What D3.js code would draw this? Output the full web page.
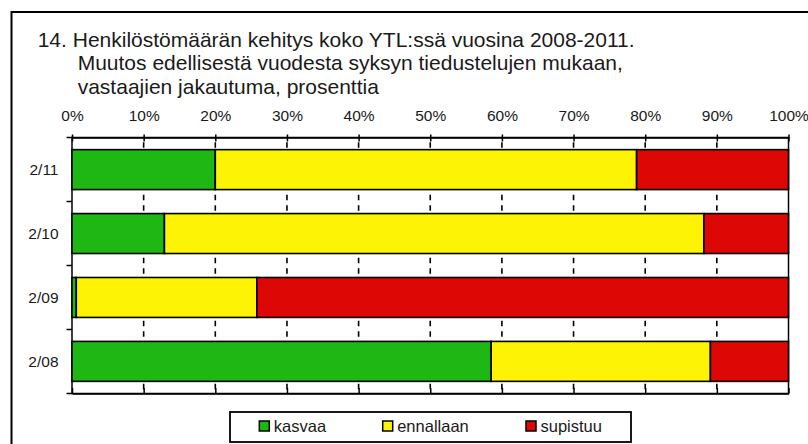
<!DOCTYPE html>
<html><head><meta charset="utf-8">
<script src="https://cdn.jsdelivr.net/npm/d3@7"></script>
<style>
html,body{margin:0;padding:0;background:#fff;}
svg{display:block;}
text{font-family:"Liberation Sans",Arial,Helvetica,sans-serif;fill:#1a1a1a;}
</style></head>
<body>
<svg id="chart" width="808" height="444"></svg>
<script>
const titleLines = [
  "14. Henkilöstömäärän kehitys koko YTL:ssä vuosina 2008-2011.",
  "Muutos edellisestä vuodesta syksyn tiedustelujen mukaan,",
  "vastaajien jakautuma, prosenttia"
];
const categories = ["2/11", "2/10", "2/09", "2/08"];
const seriesNames = ["kasvaa", "ennallaan", "supistuu"];
const kasvaa    = [20,   12.9, 0.6,  58.5];
const ennallaan = [58.8, 75.3, 25.2, 30.6];
const supistuu  = [21.2, 11.8, 74.2, 10.9];
const tickValues = [0,10,20,30,40,50,60,70,80,90,100];
const colors = ["#1FB714", "#FCF305", "#DD0806"];

const svg = d3.select("#chart");

// outer frame (extends beyond page on right/bottom)
svg.append("rect").attr("x", 11.5).attr("y", 12).attr("width", 900).attr("height", 500)
  .attr("fill", "none").attr("stroke", "#000").attr("stroke-width", 2);

// title
const tY = [46.7, 70.2, 94];
const tX = [37.7, 77.7, 77.7];
titleLines.forEach((t, i) => {
  svg.append("text").attr("x", tX[i]).attr("y", tY[i])
    .attr("font-size", 21).text(t);
});

const x = d3.scaleLinear().domain([0, 100]).range([72, 788.5]);
const y = d3.scaleBand().domain(categories).range([137.5, 393.5])
  .paddingInner(0.375).paddingOuter(0.19);

const [x0, x1] = x.range();
const [y0, y1] = y.range();

// dashed gridlines
svg.append("g").selectAll("line").data(tickValues.slice(1, -1)).join("line")
  .attr("x1", d => x(d)).attr("x2", d => x(d))
  .attr("y1", y0).attr("y2", y1)
  .attr("stroke", "#000").attr("stroke-width", 1.6)
  .attr("stroke-dasharray", "5.5,5").attr("stroke-dashoffset", 5.7);

// plot frame
svg.append("rect").attr("x", x0).attr("y", y0).attr("width", x1 - x0).attr("height", y1 - y0)
  .attr("fill", "none").attr("stroke", "#000").attr("stroke-width", 1.5);

// stacked bars
const rows = categories.map((c, i) => ({cat: c, kasvaa: kasvaa[i], ennallaan: ennallaan[i], supistuu: supistuu[i]}));
const stack = d3.stack().keys(seriesNames)(rows);
svg.append("g").selectAll("g").data(stack).join("g")
  .attr("fill", (d, i) => colors[i])
  .selectAll("rect").data(d => d).join("rect")
  .attr("x", d => x(d[0])).attr("width", d => x(d[1]) - x(d[0]))
  .attr("y", d => y(d.data.cat)).attr("height", y.bandwidth())
  .attr("stroke", "#000").attr("stroke-width", 1.6);

// top axis
const topAxis = svg.append("g").attr("transform", `translate(0,${y0})`)
  .call(d3.axisTop(x).tickValues(tickValues).tickFormat(d => d + "%").tickSizeOuter(0).tickSizeInner(3).tickPadding(14));
topAxis.select(".domain").attr("stroke", "#000").attr("stroke-width", 1.5);
topAxis.selectAll(".tick line").attr("y1", 4).attr("y2", -3).attr("stroke", "#000").attr("stroke-width", 1.5);
topAxis.selectAll(".tick text").attr("font-size", 15.5).attr("font-family", '"Liberation Sans",Arial,sans-serif').attr("fill", "#1a1a1a");

// bottom axis
const botAxis = svg.append("g").attr("transform", `translate(0,${y1})`)
  .call(d3.axisBottom(x).tickValues(tickValues).tickFormat("").tickSizeOuter(0).tickSizeInner(-5.5));
botAxis.select(".domain").attr("stroke", "#000").attr("stroke-width", 1.5);
botAxis.selectAll(".tick line").attr("stroke", "#000").attr("stroke-width", 1.5);

// left axis: ticks at band boundaries
const bounds = d3.range(categories.length + 1).map(i => y0 + i * (y1 - y0) / categories.length);
svg.append("g").selectAll("line").data(bounds).join("line")
  .attr("x1", x0 - 5.5).attr("x2", x0).attr("y1", d => d).attr("y2", d => d)
  .attr("stroke", "#000").attr("stroke-width", 1.5);
svg.append("g").selectAll("text").data(categories).join("text")
  .attr("x", x0 - 13.5).attr("y", d => y(d) + y.bandwidth() / 2)
  .attr("dy", "0.35em").attr("text-anchor", "end").attr("font-size", 15.5).text(d => d);

// legend
const lg = svg.append("g");
lg.append("rect").attr("x", 230).attr("y", 412).attr("width", 401).attr("height", 30)
  .attr("fill", "#fff").attr("stroke", "#000").attr("stroke-width", 1.8);
const lgX = [259.3, 382.7, 526];
seriesNames.forEach((s, i) => {
  lg.append("rect").attr("x", lgX[i]).attr("y", 421).attr("width", 10).attr("height", 10)
    .attr("fill", colors[i]).attr("stroke", "#000").attr("stroke-width", 1.5);
  lg.append("text").attr("x", lgX[i] + 14.5).attr("y", 432).attr("font-size", 16.5).text(s);
});
</script>
</body></html>
